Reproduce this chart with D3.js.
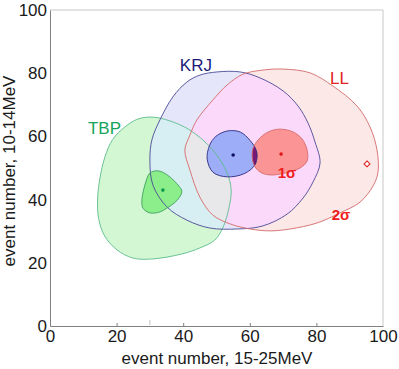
<!DOCTYPE html>
<html><head><meta charset="utf-8">
<script src="https://cdn.jsdelivr.net/npm/d3@7"></script>
<style>
body{margin:0;background:#fff;}
svg{display:block;font-family:"Liberation Sans",Arial,sans-serif;}
</style></head>
<body>
<svg id="c" width="399" height="369"></svg>
<script>
// ---- data (event numbers: x = 15-25MeV, y = 10-14MeV) ----
const xTicks = [0, 20, 40, 60, 80, 100];
const yTicks = [0, 20, 40, 60, 80, 100];

const tbp2 = [[30.9,66.1],[36.0,64.9],[42.0,62.0],[48.9,55.7],[53.2,48.4],[54.4,43.0],[53.8,37.7],[52.0,31.3],[49.5,27.2],[45.0,24.7],[39.6,22.8],[30.6,21.2],[24.9,21.5],[20.1,24.1],[16.4,28.5],[14.6,34.0],[14.3,40.2],[15.0,46.8],[16.5,53.5],[18.8,59.0],[22.5,63.0],[26.4,65.5]];
const tbp1 = [[30.0,48.4],[32.4,49.1],[35.1,47.9],[37.3,45.9],[38.8,44.2],[39.6,42.6],[38.8,40.6],[37.3,38.9],[35.1,37.3],[33.0,36.1],[30.0,35.8],[27.9,37.3],[27.6,39.9],[27.9,42.1],[28.5,44.6]];
const krj2 = [[50.2,80.4],[57.1,80.4],[63.1,78.5],[70.0,74.4],[74.5,69.6],[77.5,64.2],[79.6,58.2],[81.1,51.6],[79.0,45.6],[76.0,40.5],[71.2,35.4],[63.7,31.6],[56.2,30.7],[48.0,31.0],[41.1,33.5],[35.1,37.7],[30.9,44.6],[30.0,52.5],[30.6,58.9],[33.0,65.2],[36.9,72.5],[41.1,77.2],[45.0,79.4]];
const krj1 = [[53.2,61.7],[57.1,61.4],[60.1,58.7],[61.9,55.7],[62.2,53.8],[61.5,50.9],[58.3,48.2],[53.2,47.2],[49.0,48.6],[47.2,52.8],[47.9,57.1],[49.8,60.0]];
const ll2 = [[58.0,79.7],[64.0,81.0],[70.0,81.3],[78.1,80.1],[85.0,75.9],[92.2,69.6],[96.1,63.0],[98.2,55.7],[98.5,48.7],[97.0,44.3],[93.1,39.2],[87.1,35.8],[80.2,32.6],[72.1,30.7],[66.1,30.1],[60.1,30.7],[54.1,32.3],[48.9,35.1],[45.0,40.8],[42.0,49.4],[40.5,55.7],[42.0,60.4],[44.1,65.2],[48.9,71.5],[53.2,76.3]];
const ll1 = [[65.5,61.4],[69.1,62.3],[73.0,61.4],[75.7,59.2],[77.2,55.7],[77.2,52.2],[75.1,50.0],[70.6,48.4],[66.1,47.8],[63.1,48.7],[61.3,50.9],[60.7,53.8],[61.0,56.3],[62.5,58.9]];
const bestFit = [{name:"TBP",p:[33.9,43.0],c:"#0a9a4a"},{name:"KRJ",p:[55.0,54.1],c:"#10106a"},{name:"LL",p:[69.4,54.4],c:"#e01818"}];
const llAlt = [95.2, 51.3];
const labels = [
  {t:"TBP", p:[11.4,60.8], c:"#17a35a", s:17, w:"normal"},
  {t:"KRJ", p:[39.0,80.7], c:"#1c1c78", s:17, w:"normal"},
  {t:"LL",  p:[84.1,76.6], c:"#e02222", s:17, w:"normal"},
  {t:"1σ",  p:[68.4,46.8], c:"#ee1c1c", s:15, w:"bold"},
  {t:"2σ",  p:[84.6,33.5], c:"#ee1c1c", s:15, w:"bold"}
];

// ---- layout ----
const svg = d3.select("#c");
const x = d3.scaleLinear().domain([0,100]).range([50,383]);
const y = d3.scaleLinear().domain([0,100]).range([326,10]);
const line = d3.line().x(d=>x(d[0])).y(d=>y(d[1])).curve(d3.curveCatmullRomClosed.alpha(0.5));

const defs = svg.append("defs");
function clip(id, data){ defs.append("clipPath").attr("id",id).append("path").attr("d",line(data)); }
clip("cTBP2",tbp2); clip("cKRJ2",krj2); clip("cLL2",ll2); clip("cLL1",ll1);

const g = svg.append("g");
// base 2σ fills
g.append("path").attr("d",line(tbp2)).attr("fill","#d3f7d3");
g.append("path").attr("d",line(krj2)).attr("fill","#e6e6fb");
g.append("path").attr("d",line(ll2)).attr("fill","#fde8e8");
// overlaps
g.append("g").attr("clip-path","url(#cLL2)").append("path").attr("d",line(tbp2)).attr("fill","#eeeed8");
g.append("g").attr("clip-path","url(#cTBP2)").append("path").attr("d",line(krj2)).attr("fill","#d7eff2");
g.append("g").attr("clip-path","url(#cLL2)").append("path").attr("d",line(krj2)).attr("fill","#fbd9fb");
g.append("g").attr("clip-path","url(#cTBP2)").append("g").attr("clip-path","url(#cLL2)")
  .append("path").attr("d",line(krj2)).attr("fill","#e8e8eb");
// 1σ fills
g.append("path").attr("d",line(tbp1)).attr("fill","#8bee8b");
g.append("path").attr("d",line(krj1)).attr("fill","#9dadf7");
g.append("path").attr("d",line(ll1)).attr("fill","#fb9494");
g.append("g").attr("clip-path","url(#cLL1)").append("path").attr("d",line(krj1)).attr("fill","#7a1676");
// outlines
const outl = [[tbp2,"#5cbb8c"],[krj2,"#4a4a94"],[ll2,"#d46a6a"],[tbp1,"#3f9f5f"],[krj1,"#2c2c80"],[ll1,"#d46a6a"]];
outl.forEach(([d,c])=>g.append("path").attr("d",line(d)).attr("fill","none").attr("stroke",c).attr("stroke-width",0.9));

// best-fit points
g.selectAll(".bf").data(bestFit).enter().append("circle")
  .attr("cx",d=>x(d.p[0])).attr("cy",d=>y(d.p[1])).attr("r",1.8).attr("fill",d=>d.c);
// alternative minimum marker (open diamond)
g.append("path").attr("d",d3.symbol(d3.symbolDiamond2,22)())
  .attr("transform",`translate(${x(llAlt[0])},${y(llAlt[1])})`)
  .attr("fill","#fff").attr("stroke","#e02020").attr("stroke-width",1.1);

// labels
svg.selectAll(".lab").data(labels).enter().append("text")
  .attr("x",d=>x(d.p[0])).attr("y",d=>y(d.p[1])).attr("fill",d=>d.c)
  .attr("font-size",d=>d.s).attr("font-weight",d=>d.w).text(d=>d.t);

// frame
svg.append("line").attr("x1",x(0)).attr("x2",x(100)).attr("y1",y(100)).attr("y2",y(100)).attr("stroke","#c8c8c8");
svg.append("line").attr("x1",x(100)).attr("x2",x(100)).attr("y1",y(0)).attr("y2",y(100)).attr("stroke","#c8c8c8");

// axes
const xa = svg.append("g").attr("transform",`translate(0,${y(0)})`)
  .call(d3.axisBottom(x).tickValues(xTicks).tickSizeInner(-3).tickSizeOuter(0).tickPadding(6));
const ya = svg.append("g").attr("transform",`translate(${x(0)},0)`)
  .call(d3.axisLeft(y).tickValues(yTicks).tickSize(0).tickPadding(3));
[xa,ya].forEach(a=>{
  a.select(".domain").attr("stroke","#808080");
  a.selectAll(".tick line").attr("stroke","#808080");
  a.selectAll("text").attr("font-size",17).attr("fill","#1a1a1a").attr("font-family","Liberation Sans, Arial, sans-serif");
});
xa.selectAll(".tick text").attr("dy","0.71em").attr("y",4);
xa.selectAll(".tick line").filter(d=>d===0||d===100).remove();
// extra faint tick
svg.append("line").attr("x1",x(30)).attr("x2",x(30)).attr("y1",y(0)-1).attr("y2",y(0)-6).attr("stroke","#c0c0c0");

// axis titles
svg.append("text").attr("x",217).attr("y",364).attr("text-anchor","middle")
  .attr("font-size",17).attr("fill","#1a1a1a").text("event number, 15-25MeV");
svg.append("text").attr("transform","translate(15,171) rotate(-90)").attr("text-anchor","middle")
  .attr("font-size",17).attr("fill","#1a1a1a").text("event number, 10-14MeV");
</script>
</body></html>
